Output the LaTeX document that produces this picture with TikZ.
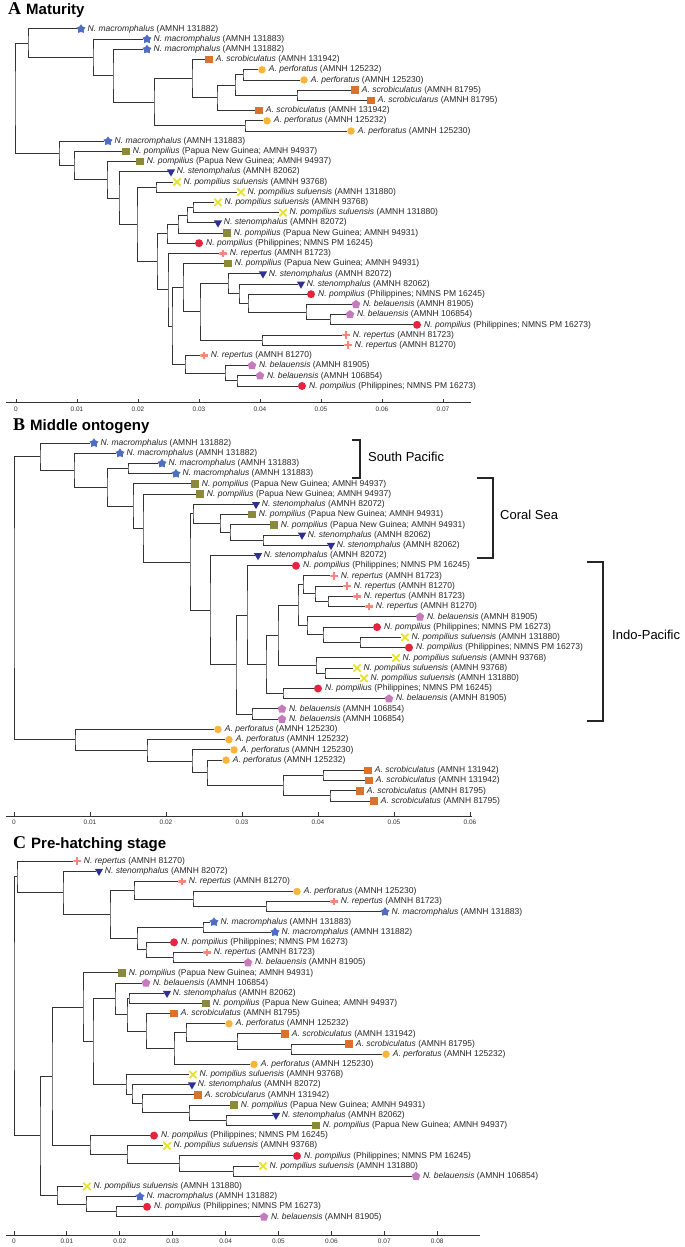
\documentclass[tikz,border=0pt]{standalone}
\usepackage{fontspec}
\setmainfont{Liberation Sans}
\newfontfamily\letterfont{Liberation Serif}
\usetikzlibrary{calc, positioning, shapes.geometric, shapes.misc}

\definecolor{macblue}{HTML}{4F6EC2}
\definecolor{scrorange}{HTML}{D9722D}
\definecolor{perorange}{HTML}{F8B43C}
\definecolor{pngolive}{HTML}{8B8A3A}
\definecolor{phired}{HTML}{E5243F}
\definecolor{stenavy}{HTML}{2E3191}
\definecolor{sulyellow}{HTML}{E9E22B}
\definecolor{repsalmon}{HTML}{F5887B}
\definecolor{belpink}{HTML}{C67BBC}
\definecolor{treegray}{HTML}{333333}

\newcommand{\spmac}{N. macromphalus}
\newcommand{\spscr}{A. scrobiculatus}
\newcommand{\spscx}{A. scrobicularus}
\newcommand{\spper}{A. perforatus}
\newcommand{\sppng}{N. pompilius}
\newcommand{\spphi}{N. pompilius}
\newcommand{\spste}{N. stenomphalus}
\newcommand{\spsul}{N. pompilius suluensis}
\newcommand{\sprep}{N. repertus}
\newcommand{\spbel}{N. belauensis}

% elbow from two children to their common node at depth #2
\newcommand{\clade}[4]{%
  \path let \p1=($(#3)!.5!(#4)$) in (#2,\y1) coordinate (#1);
  \draw[branch] (#3) -| (#1) |- (#4);}

\begin{document}
\begin{tikzpicture}[x=1pt, y=-1pt,
    branch/.style={draw=treegray, line width=1pt},
    axis/.style={draw=treegray, line width=0.9pt},
    tick/.style={inner sep=0pt, font=\fontsize{6.5}{7}\selectfont, text=black!80},
    lbl/.style={inner sep=0pt, font=\fontsize{8.5}{9}\selectfont, text=black!85},
    title/.style={anchor=base west, inner sep=0pt},
    region/.style={anchor=west, inner sep=0pt, font=\fontsize{13}{13}\selectfont},
    bracket/.style={draw=black!85, line width=1.2pt},
    mk/.style={inner sep=0pt, draw=none},
    mk-mac/.style={mk, star, star points=5, star point ratio=1.6, minimum size=9.5pt, fill=macblue},
    mk-scr/.style={mk, rectangle, minimum size=7.5pt, fill=scrorange},
    mk-scx/.style={mk-scr},
    mk-per/.style={mk, circle, minimum size=7.5pt, fill=perorange},
    mk-png/.style={mk, rectangle, minimum size=7.5pt, fill=pngolive},
    mk-phi/.style={mk, circle, minimum size=8pt, fill=phired},
    mk-ste/.style={mk, regular polygon, regular polygon sides=3, shape border rotate=180, minimum size=9.5pt, fill=stenavy},
    mk-sul/.style={mk, cross out, minimum size=5.5pt, draw=sulyellow, line width=1.8pt},
    mk-rep/.style={mk, rectangle, minimum size=7.5pt, path picture={\draw[repsalmon, line width=2.4pt]
        (path picture bounding box.north) -- (path picture bounding box.south)
        (path picture bounding box.west) -- (path picture bounding box.east);}},
    mk-bel/.style={mk, regular polygon, regular polygon sides=5, minimum size=9pt, fill=belpink}]
  \useasboundingbox (0,0) rectangle (685,1247);

  % ---------- A: maturity ----------
  \node[title] (A-head) at (8,15) {{\letterfont\bfseries\fontsize{18}{18}\selectfont A}\hspace{5pt}{\bfseries\fontsize{15}{15}\selectfont Maturity}};
  \foreach \x/\k/\id [count=\r] in {81/mac/AMNH 131882,147/mac/AMNH 131883,147/mac/AMNH 131882,
      209/scr/AMNH 131942,262/per/AMNH 125232,304/per/AMNH 125230,355/scr/AMNH 81795,371/scx/AMNH 81795,
      259/scr/AMNH 131942,267/per/AMNH 125232,351/per/AMNH 125230,108/mac/AMNH 131883,
      126/png/Papua New Guinea; AMNH 94937,140/png/Papua New Guinea; AMNH 94937,171/ste/AMNH 82062,
      177/sul/AMNH 93768,241/sul/AMNH 131880,218/sul/AMNH 93768,283/sul/AMNH 131880,218/ste/AMNH 82072,
      227/png/Papua New Guinea; AMNH 94931,199/phi/Philippines; NMNS PM 16245,223/rep/AMNH 81723,
      228/png/Papua New Guinea; AMNH 94931,263/ste/AMNH 82072,301/ste/AMNH 82062,
      311/phi/Philippines; NMNS PM 16245,356/bel/AMNH 81905,350/bel/AMNH 106854,
      417/phi/Philippines; NMNS PM 16273,346/rep/AMNH 81723,348/rep/AMNH 81270,204/rep/AMNH 81270,
      252/bel/AMNH 81905,260/bel/AMNH 106854,302/phi/Philippines; NMNS PM 16273} {
    \node[mk-\k] (A\r) at (\x,{29+10.2*(\r-1)}) {};
    \node[lbl, right=2.8pt of A\r] (A\r-lab) {\textit{\csname sp\k\endcsname} (\id)};
  }
  \clade{Ac1}{243}{A5}{A6}
  \clade{Ac2}{297}{A7}{A8}
  \clade{Ac3}{235}{Ac1}{Ac2}
  \clade{Ac4}{217}{Ac3}{A9}
  \clade{Ac5}{192}{A4}{Ac4}
  \clade{Ac6}{245}{A10}{A11}
  \clade{Ac7}{154}{Ac5}{Ac6}
  \clade{Ac8}{113}{A3}{Ac7}
  \clade{Ac9}{93}{A2}{Ac8}
  \clade{Ac10}{28}{A1}{Ac9}
  \clade{Ac11}{156}{A16}{A17}
  \clade{Ac12}{193}{A18}{A19}
  \clade{Ac13}{187}{Ac12}{A20}
  \clade{Ac14}{178}{Ac13}{A21}
  \clade{Ac15}{167}{Ac14}{A22}
  \clade{Ac16}{330}{A29}{A30}
  \clade{Ac17}{306}{A28}{Ac16}
  \clade{Ac18}{248}{A27}{Ac17}
  \clade{Ac19}{239}{A26}{Ac18}
  \clade{Ac20}{228}{A25}{Ac19}
  \clade{Ac21}{262}{A31}{A32}
  \clade{Ac22}{200}{Ac20}{Ac21}
  \clade{Ac23}{183}{A24}{Ac22}
  \clade{Ac24}{237}{A35}{A36}
  \clade{Ac25}{225}{A34}{Ac24}
  \clade{Ac26}{185}{A33}{Ac25}
  \clade{Ac27}{172}{Ac23}{Ac26}
  \clade{Ac28}{168}{A23}{Ac27}
  \clade{Ac29}{157}{Ac15}{Ac28}
  \clade{Ac30}{137}{Ac11}{Ac29}
  \clade{Ac31}{119}{A15}{Ac30}
  \clade{Ac32}{107}{A14}{Ac31}
  \clade{Ac33}{74}{A13}{Ac32}
  \clade{Ac34}{59}{A12}{Ac33}
  \clade{Ac35}{15}{Ac10}{Ac34}
  \draw[axis] (6,402.5) coordinate (A-ax0) -- (471,402.5) coordinate (A-ax1);
  \foreach \k in {0,...,7} {
    \draw[axis] (16+61*\k,402.5) -- ++(0,-4);
    \node[tick] (A-tk\k) at (16+61*\k,409) {\ifnum\k=0 0\else 0.0\k\fi};
  }

  % ---------- B: middle ontogeny ----------
  \node[title] (B-head) at (13,430) {{\letterfont\bfseries\fontsize{18}{18}\selectfont B}\hspace{5pt}{\bfseries\fontsize{15}{15}\selectfont Middle ontogeny}};
  \foreach \x/\k/\id [count=\r] in {94/mac/AMNH 131882,120/mac/AMNH 131882,162/mac/AMNH 131883,176/mac/AMNH 131883,
      195/png/Papua New Guinea; AMNH 94937,200/png/Papua New Guinea; AMNH 94937,256/ste/AMNH 82072,
      252/png/Papua New Guinea; AMNH 94931,274/png/Papua New Guinea; AMNH 94931,302/ste/AMNH 82062,
      331/ste/AMNH 82062,258/ste/AMNH 82072,296/phi/Philippines; NMNS PM 16245,334/rep/AMNH 81723,
      347/rep/AMNH 81270,357/rep/AMNH 81723,369/rep/AMNH 81270,420/bel/AMNH 81905,
      377/phi/Philippines; NMNS PM 16273,405/sul/AMNH 131880,409/phi/Philippines; NMNS PM 16273,
      396/sul/AMNH 93768,357/sul/AMNH 93768,364/sul/AMNH 131880,318/phi/Philippines; NMNS PM 16245,
      389/bel/AMNH 81905,282/bel/AMNH 106854,282/bel/AMNH 106854,218/per/AMNH 125230,229/per/AMNH 125232,
      234/per/AMNH 125230,226/per/AMNH 125232,368/scr/AMNH 131942,369/scr/AMNH 131942,
      360/scr/AMNH 81795,374/scr/AMNH 81795} {
    \node[mk-\k] (B\r) at (\x,{443+10.23*(\r-1)}) {};
    \node[lbl, right=2.8pt of B\r] (B\r-lab) {\textit{\csname sp\k\endcsname} (\id)};
  }
  \clade{Bc1}{128}{B3}{B4}
  \clade{Bc2}{263}{B10}{B11}
  \clade{Bc3}{230}{B9}{Bc2}
  \clade{Bc4}{220}{B8}{Bc3}
  \clade{Bc5}{193}{B7}{Bc4}
  \clade{Bc6}{328}{B16}{B17}
  \clade{Bc7}{315}{B15}{Bc6}
  \clade{Bc8}{303}{B14}{Bc7}
  \clade{Bc9}{360}{B20}{B21}
  \clade{Bc10}{323}{B19}{Bc9}
  \clade{Bc11}{307}{B18}{Bc10}
  \clade{Bc12}{298}{Bc8}{Bc11}
  \clade{Bc13}{325}{B23}{B24}
  \clade{Bc14}{316}{B22}{Bc13}
  \clade{Bc15}{278}{Bc12}{Bc14}
  \clade{Bc16}{283}{B25}{B26}
  \clade{Bc17}{266}{Bc15}{Bc16}
  \clade{Bc18}{247}{B13}{Bc17}
  \clade{Bc19}{252}{B27}{B28}
  \clade{Bc20}{236}{Bc18}{Bc19}
  \clade{Bc21}{210}{B12}{Bc20}
  \clade{Bc22}{190}{Bc5}{Bc21}
  \clade{Bc23}{143}{B6}{Bc22}
  \clade{Bc24}{133}{B5}{Bc23}
  \clade{Bc25}{107}{Bc1}{Bc24}
  \clade{Bc26}{74}{B2}{Bc25}
  \clade{Bc27}{40}{B1}{Bc26}
  \clade{Bc28}{323}{B33}{B34}
  \clade{Bc29}{330}{B35}{B36}
  \clade{Bc30}{283}{Bc28}{Bc29}
  \clade{Bc31}{207}{B32}{Bc30}
  \clade{Bc32}{192}{B31}{Bc31}
  \clade{Bc33}{147}{B30}{Bc32}
  \clade{Bc34}{75}{B29}{Bc33}
  \clade{Bc35}{14}{Bc27}{Bc34}
  % regions
  \coordinate (sp-top) at (352,440);
  \coordinate (sp-bot) at (352,478);
  \draw[bracket] (sp-top) -- ++(8,0) |- (sp-bot);
  \node[region] (sp-lab) at (368,457) {South Pacific};
  \coordinate (cs-top) at (477,478);
  \coordinate (cs-bot) at (477,558);
  \draw[bracket] (cs-top) -- ++(16,0) |- (cs-bot);
  \node[region] (cs-lab) at (500,515) {Coral Sea};
  \coordinate (ip-top) at (587,562);
  \coordinate (ip-bot) at (587,721);
  \draw[bracket] (ip-top) -- ++(16,0) |- (ip-bot);
  \node[region] (ip-lab) at (612,635) {Indo-Pacific};
  \draw[axis] (6,816) coordinate (B-ax0) -- (472,816) coordinate (B-ax1);
  \foreach \k in {0,...,6} {
    \draw[axis] (14+76*\k,816) -- ++(0,-4);
    \node[tick] (B-tk\k) at (14+76*\k,822) {\ifnum\k=0 0\else 0.0\k\fi};
  }

  % ---------- C: pre-hatching stage ----------
  \node[title] (C-head) at (13,848) {{\letterfont\bfseries\fontsize{18}{18}\selectfont C}\hspace{5pt}{\bfseries\fontsize{15}{15}\selectfont Pre-hatching stage}};
  \foreach \x/\k/\id [count=\r] in {77/rep/AMNH 81270,99/ste/AMNH 82072,182/rep/AMNH 81270,297/per/AMNH 125230,
      334/rep/AMNH 81723,385/mac/AMNH 131883,214/mac/AMNH 131883,275/mac/AMNH 131882,
      174/phi/Philippines; NMNS PM 16273,207/rep/AMNH 81723,248/bel/AMNH 81905,
      122/png/Papua New Guinea; AMNH 94931,146/bel/AMNH 106854,167/ste/AMNH 82062,
      206/png/Papua New Guinea; AMNH 94937,174/scr/AMNH 81795,229/per/AMNH 125232,285/scr/AMNH 131942,
      349/scr/AMNH 81795,386/per/AMNH 125232,254/per/AMNH 125230,193/sul/AMNH 93768,192/ste/AMNH 82072,
      198/scx/AMNH 131942,234/png/Papua New Guinea; AMNH 94931,276/ste/AMNH 82062,
      316/png/Papua New Guinea; AMNH 94937,154/phi/Philippines; NMNS PM 16245,167/sul/AMNH 93768,
      297/phi/Philippines; NMNS PM 16245,263/sul/AMNH 131880,416/bel/AMNH 106854,87/sul/AMNH 131880,
      140/mac/AMNH 131882,147/phi/Philippines; NMNS PM 16273,264/bel/AMNH 81905} {
    \node[mk-\k] (C\r) at (\x,{861+10.17*(\r-1)}) {};
    \node[lbl, right=2.8pt of C\r] (C\r-lab) {\textit{\csname sp\k\endcsname} (\id)};
  }
  \clade{Cc1}{266}{C5}{C6}
  \clade{Cc2}{193}{C4}{Cc1}
  \clade{Cc3}{134}{C3}{Cc2}
  \clade{Cc4}{203}{C7}{C8}
  \clade{Cc5}{173}{C10}{C11}
  \clade{Cc6}{146}{C9}{Cc5}
  \clade{Cc7}{137}{Cc4}{Cc6}
  \clade{Cc8}{110}{Cc3}{Cc7}
  \clade{Cc9}{63}{C2}{Cc8}
  \clade{Cc10}{17}{C1}{Cc9}
  \clade{Cc11}{129}{C14}{C15}
  \clade{Cc12}{291}{C19}{C20}
  \clade{Cc13}{237}{C18}{Cc12}
  \clade{Cc14}{186}{C17}{Cc13}
  \clade{Cc15}{174}{Cc14}{C21}
  \clade{Cc16}{146}{C16}{Cc15}
  \clade{Cc17}{127}{Cc11}{Cc16}
  \clade{Cc18}{115}{C13}{Cc17}
  \clade{Cc19}{226}{C26}{C27}
  \clade{Cc20}{189}{C25}{Cc19}
  \clade{Cc21}{142}{C24}{Cc20}
  \clade{Cc22}{132}{C23}{Cc21}
  \clade{Cc23}{126}{C22}{Cc22}
  \clade{Cc24}{93}{Cc18}{Cc23}
  \clade{Cc25}{83}{C12}{Cc24}
  \clade{Cc26}{233}{C31}{C32}
  \clade{Cc27}{179}{C30}{Cc26}
  \clade{Cc28}{127}{C29}{Cc27}
  \clade{Cc29}{90}{C28}{Cc28}
  \clade{Cc30}{52}{Cc25}{Cc29}
  \clade{Cc31}{116}{C35}{C36}
  \clade{Cc32}{86}{C34}{Cc31}
  \clade{Cc33}{57}{C33}{Cc32}
  \clade{Cc34}{40}{Cc30}{Cc33}
  \clade{Cc35}{14}{Cc10}{Cc34}
  \draw[axis] (6,1235) coordinate (C-ax0) -- (480,1235) coordinate (C-ax1);
  \foreach \k in {0,...,8} {
    \draw[axis] (14+52.9*\k,1235) -- ++(0,-4);
    \node[tick] (C-tk\k) at (14+52.9*\k,1241) {\ifnum\k=0 0\else 0.0\k\fi};
  }
\end{tikzpicture}
\end{document}
